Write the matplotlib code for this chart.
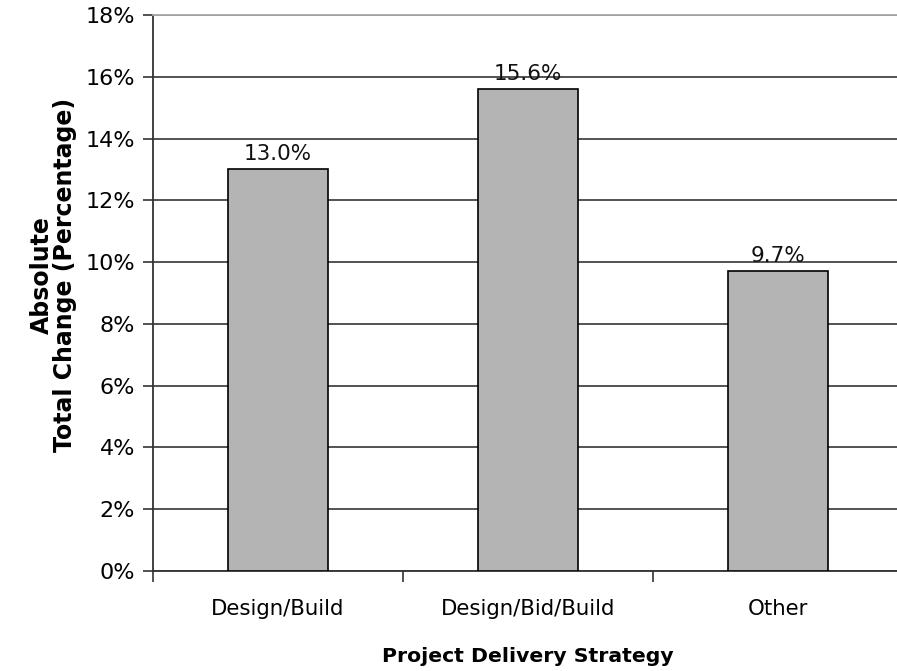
import matplotlib
matplotlib.use("Agg")
import matplotlib.pyplot as plt
import numpy as np

CATEGORIES = ["Design/Build", "Design/Bid/Build", "Other"]
VALUES = [13.0, 15.6, 9.7]
Y_TICKS = [0, 2, 4, 6, 8, 10, 12, 14, 16, 18]

plt.rcParams["font.family"] = ["DejaVu Sans"]

W, H = 897, 671
fig = plt.figure(figsize=(W / 100, H / 100), dpi=100)
# axes runs past the right edge, like the cropped original
ax = fig.add_axes([153 / W, 1 - 571 / H, 750 / W, 556 / H])

x = np.arange(len(CATEGORIES))
ax.bar(x, VALUES, width=0.4, color="#b4b4b4", edgecolor="black", linewidth=1.2, zorder=3)

for xi, v in zip(x, VALUES):
    ax.annotate(f"{v:.1f}%", (xi, v), xytext=(0, 4), textcoords="offset points",
                ha="center", va="bottom", fontsize=15.5, color="#111111", zorder=4)

ax.set_xlim(-0.5, len(CATEGORIES) - 0.5)
ax.set_ylim(0, 18)
ax.set_yticks(Y_TICKS)
ax.set_yticklabels([f"{t}%" for t in Y_TICKS], fontsize=16)
ax.set_xticks(x)
ax.set_xticklabels(CATEGORIES, fontsize=15.3)
ax.set_xticks(np.arange(len(CATEGORIES) + 1) - 0.5, minor=True)
ax.tick_params(axis="x", which="major", length=0, pad=20)
ax.tick_params(axis="x", which="minor", length=8, width=1.2, color="#333333")
ax.tick_params(axis="y", length=7, width=1.2, color="#333333", pad=6)

ax.yaxis.grid(True, color="#444444", linewidth=1.3, zorder=0)
ax.set_axisbelow(True)
ax.spines["right"].set_visible(False)
ax.spines["top"].set_color("#aaaaaa")
ax.spines["top"].set_linewidth(1.3)
for s in ["left", "bottom"]:
    ax.spines[s].set_color("#333333")
    ax.spines[s].set_linewidth(1.3)

ax.set_xlabel("Project Delivery Strategy", fontsize=14.7, fontweight="bold", labelpad=20)
ax.set_ylabel("Absolute\nTotal Change (Percentage)", fontsize=17, fontweight="bold",
              linespacing=0.95)
ax.yaxis.set_label_coords(-0.101, 0.532)

fig.savefig("out.png", dpi=100)
